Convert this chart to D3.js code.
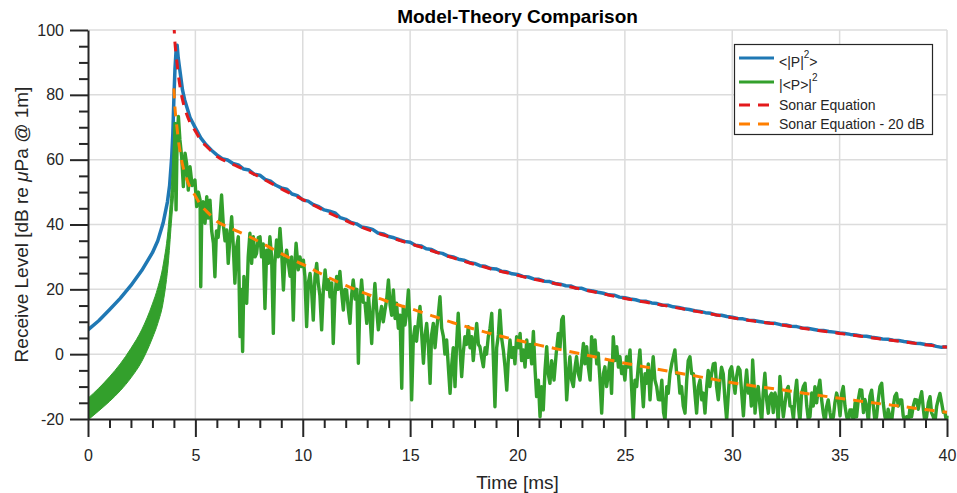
<!DOCTYPE html>
<html>
<head>
<meta charset="utf-8">
<script src="https://cdn.jsdelivr.net/npm/d3@7"></script>
<style>
  body { margin: 0; background: #fff; }
  svg { display: block; font-family: "Liberation Sans", Arial, Helvetica, sans-serif; }
  .axis .domain, .axis line { stroke: #262626; stroke-width: 2; }
  .axis text { fill: #262626; font-size: 16px; font-family: "Liberation Sans", Arial, sans-serif; }
</style>
</head>
<body>
<div id="chart"></div>
<script>
/* Chart constants */
const WIDTH = 957
const HEIGHT = 493
const MARGIN = {"top": 30, "right": 10, "bottom": 74, "left": 88}
const COLORS = {
  "BLUE": "#1f78b4",
  "GREEN": "#33a02c",
  "RED": "#e31a1c",
  "ORANGE": "#ff7f00",
  "GRID": "#dcdcdc",
  "INK": "#262626"
}
const OFFSET_DB = 20

/* Axis ticks */
const xMajor = [0, 5, 10, 15, 20, 25, 30, 35, 40]
const xMinor = d3.range(0, 41).filter((d) => d % 5 !== 0)
const yMajor = [-20, 0, 20, 40, 60, 80, 100]
const yMinor = d3.range(-20, 101, 5).filter((d) => d % 20 !== 0)

/* Sonar equation (red dashed) */
const sonarTime = [4.0, 4.05, 4.1, 4.15, 4.2, 4.3, 4.4, 4.5, 4.75, 5, 5.25, 5.5, 5.75, 6, 6.5,
  7, 7.5, 8, 8.5, 9, 9.5, 10, 10.5, 11, 11.5, 12, 12.5, 13, 13.5, 14, 14.5, 15, 15.5, 16, 16.5,
  17, 17.5, 18, 18.5, 19, 19.5, 20, 21, 22, 23, 24, 25, 26, 27, 28, 29, 30, 31, 32, 33, 34, 35,
  36, 37, 38, 39, 40]
const sonarLevel = [102, 96, 92.5, 89.5, 86.5, 82, 78.5, 76, 71.5, 68.8, 66, 64.2, 62.6, 61, 59.3,
  57.8, 56.3, 54.6, 52.8, 51, 49.3, 47.7, 46, 44.3, 42.7, 41.2, 39.8, 38.5, 37.3, 36.2, 35.1, 34.1, 33, 31.9, 30.8,
  29.7, 28.7, 27.7, 26.8, 25.9, 25.1, 24.3, 22.8, 21.4, 20, 18.6, 17.2, 16, 14.8, 13.6, 12.4, 11.2, 10.2, 9.3, 8.3, 7.3, 6.4,
  5.5, 4.6, 3.8, 2.9, 2.1]

/* <|P|^2> (blue): rise and peak, then tail sampled every 0.25 ms from 4.75 ms */
const meanSqRiseTime = [0, 0.5, 1, 1.5, 2, 2.5, 3, 3.25, 3.5, 3.7, 3.8, 3.9, 3.95, 4.0, 4.05, 4.1, 4.15, 4.2, 4.25, 4.3, 4.4, 4.5]
const meanSqRiseLevel = [7.5, 10.3, 13.7, 17.2, 21.2, 25.8, 31.3, 35, 40.5, 47, 52, 61, 68, 79, 88, 93.5, 95.3, 91.5, 89, 86.5, 81.5, 78.5]
const meanSqTailStart = 4.75
const meanSqTailStep = 0.25
const meanSqTailLevel = [
  73,
  69.8, 66.7, 64.6, 62.9,
  61.5, 60.3, 59.9, 58.8,
  58.4, 57.1, 56.8, 55.5,
  55.2, 53.9, 53.4, 52.1,
  51.3, 50.9, 49.4, 48.9,
  47.6, 47.2, 46.1, 45.5,
  44.5, 44.1, 43.6, 42.1,
  41.6, 40.6, 40.2, 39.2,
  38.9, 38.5, 37.4, 37.1,
  36.3, 35.9, 35.3, 34.8,
  34.5, 33.6, 33.4, 32.5,
  32.3, 31.4, 31.1, 30.3,
  30.0, 29.3, 29.0, 28.3,
  28.0, 27.3, 27.1, 26.4,
  26.3, 25.6, 25.4, 24.8,
  24.6, 24.0, 23.8, 23.2,
  23.1, 22.5, 22.4, 21.8,
  21.6, 21.1, 21.0, 20.3,
  20.3, 19.7, 19.5, 19.1,
  18.8, 18.3, 18.2, 17.6,
  17.4, 17.0, 16.8, 16.3,
  16.3, 15.8, 15.6, 15.1,
  15.1, 14.6, 14.4, 14.0,
  13.8, 13.4, 13.2, 12.8,
  12.6, 12.1, 12.0, 11.6,
  11.4, 11.0, 10.9, 10.5,
  10.4, 10.1, 9.8, 9.6,
  9.5, 9.1, 9.0, 8.6,
  8.5, 8.1, 8.0, 7.7,
  7.4, 7.3, 7.0, 6.8,
  6.5, 6.4, 6.1, 5.9,
  5.6, 5.5, 5.2, 5.0,
  4.7, 4.6, 4.3, 4.2,
  3.9, 3.7, 3.4, 3.3,
  3.0, 2.9, 2.4, 2.1,
  2.3
]

/* |<P>|^2 (green): fast oscillation envelope before the arrival, then sampled noise */
const bandTime = [0, 0.5, 1, 1.5, 2, 2.5, 3, 3.25, 3.5, 3.75, 3.9, 4.0]
const bandUpper = [-13.6, -10.5, -7, -3, 1.8, 7.5, 15.5, 20.5, 27.5, 40, 54, 68]
const bandLower = [-20.3, -17.5, -14.6, -11.3, -7.3, -2.3, 5, 9.5, 16, 29, 42, 50]
const coherentSamples = [
  [4.0, 50], [4.02, 60], [4.05, 71.2], [4.10, 44.5], [4.15, 66], [4.21, 73.3], [4.28, 66.1], [4.36, 61],
  [4.44, 51.7], [4.52, 62], [4.59, 58.9], [4.67, 50.6], [4.75, 57.8], [4.85, 52], [4.98, 53.7], [5.06, 45.5],
  [5.14, 50], [5.22, 47.5], [5.25, 20.8], [5.30, 44], [5.37, 47], [5.45, 40.4], [5.53, 48.6], [5.60, 42],
  [5.68, 47.5], [5.76, 38], [5.84, 34.2], [5.91, 23.9], [5.98, 38], [6.06, 36], [6.15, 42.4], [6.22, 49.1],
  [6.30, 40], [6.38, 35], [6.46, 38.3], [6.53, 28], [6.61, 36], [6.69, 42.4], [6.76, 34], [6.84, 21.9],
  [6.92, 33], [7.00, 36.2], [7.08, 5.4], [7.14, 20], [7.20, 0.8], [7.26, 24], [7.31, 17.7], [7.39, 15.7],
  [7.46, 30], [7.54, 37.3], [7.62, 28], [7.70, 36.2], [7.78, 30], [7.85, 31.1], [7.93, 36], [8.01, 36.2],
  [8.08, 30], [8.16, 34], [8.24, 14.1], [8.32, 32.1], [8.40, 28], [8.47, 36.2], [8.55, 30], [8.63, 6.4],
  [8.70, 28], [8.78, 35.2], [8.86, 30], [8.94, 38.8], [9.02, 31], [9.10, 19.8], [9.17, 29], [9.25, 32.1],
  [9.33, 28], [9.41, 24], [9.48, 30], [9.56, 10.5], [9.62, 26], [9.69, 34.2], [9.79, 26], [9.87, 30],
  [9.95, 27], [10.03, 29], [10.10, 24], [10.18, 8.5], [10.26, 22], [10.34, 24.9], [10.41, 20], [10.49, 10.5],
  [10.57, 24], [10.65, 28], [10.72, 22], [10.80, 18], [10.88, 7.5], [10.96, 20], [11.04, 26], [11.12, 20],
  [11.20, 23], [11.27, 17.7], [11.35, 22], [11.42, 3.3], [11.50, 18], [11.58, 24], [11.65, 20], [11.73, 25.5],
  [11.81, 19], [11.89, 13.6], [11.96, 20], [12.04, 19.8], [12.12, 14], [12.20, 9.5], [12.27, 18], [12.35, 22.9],
  [12.44, 17], [12.52, 20], [12.59, -2.8], [12.66, 16], [12.74, 22.9], [12.82, 16], [12.90, 15.7], [12.98, 9.5],
  [13.06, 18], [13.13, 12], [13.21, 3.3], [13.28, 14], [13.36, 21.8], [13.44, 14], [13.52, 7.5], [13.60, 12],
  [13.67, 14.7], [13.75, 10], [13.83, 13.6], [13.91, 17], [13.99, 22.9], [14.07, 15], [14.14, 12], [14.22, 19.8],
  [14.30, 11], [14.37, 15.7], [14.45, 8], [14.53, 12], [14.61, -10.5], [14.68, 14.7], [14.76, 9], [14.84, 13],
  [14.92, 19.8], [15.00, 8], [15.07, -14.1], [15.15, 5], [15.23, 8.5], [15.30, 4], [15.38, 10], [15.46, 14.7],
  [15.54, 6], [15.62, -2.8], [15.70, 6], [15.77, 9.5], [15.85, 3], [15.93, -9], [16.00, 6], [16.08, 9.5],
  [16.16, 2], [16.24, 8], [16.31, 12], [16.39, 17.7], [16.47, 8], [16.55, 5.4], [16.62, 0], [16.70, 4.4],
  [16.78, -4], [16.86, -12.1], [16.94, -3], [17.01, 2], [17.09, -10], [17.17, 4], [17.24, 12.6], [17.32, 2],
  [17.40, -6.9], [17.47, 0], [17.55, 5.4], [17.63, 3], [17.71, 8.5], [17.79, 2], [17.87, 5.4], [17.94, -2],
  [18.02, 4], [18.10, 9.5], [18.18, 3], [18.25, 2.3], [18.33, -1], [18.41, -3.9], [18.49, 2], [18.56, 0],
  [18.64, 5.4], [18.72, 8], [18.80, 12.6], [18.88, -2], [18.95, -16.2], [19.03, 2], [19.11, 6], [19.18, 13.6],
  [19.26, 5], [19.34, 1.3], [19.42, -4], [19.50, -11.1], [19.57, -2], [19.65, 4.4], [19.73, -1], [19.81, 2],
  [19.88, -3], [19.96, 5.4], [20.04, 2], [20.12, 6.4], [20.19, -2], [20.27, 1.3], [20.35, -4], [20.43, 4.4],
  [20.51, -1], [20.58, 3], [20.66, -3], [20.74, 7.0], [20.82, -5], [20.89, -13.1], [20.97, -8], [21.05, -19.3],
  [21.12, -10], [21.20, -17.2], [21.28, -5], [21.36, 2.3], [21.43, -6], [21.51, -9], [21.59, -2], [21.70, -8],
  [21.80, 0], [21.90, 6.4], [21.98, 2], [22.06, 10.6], [22.13, 11.6], [22.21, 0], [22.29, -14.1], [22.37, -6],
  [22.44, -0.8], [22.52, -8], [22.60, -10], [22.68, -4], [22.75, -0.8], [22.83, -6], [22.91, -8], [22.99, -2],
  [23.07, 3.3], [23.14, -3], [23.22, 2.3], [23.30, -4], [23.38, -8], [23.45, 5.4], [23.53, 0], [23.61, 4.4],
  [23.69, -3], [23.76, 0.3], [23.84, -8], [23.92, -18.2], [24.00, -6], [24.07, -3.9], [24.15, -10], [24.23, -6],
  [24.30, -2], [24.38, -12.1], [24.46, 5.4], [24.54, -2], [24.62, 2.3], [24.70, -4], [24.77, -0.8], [24.85, -6],
  [24.93, -3.9], [25.00, -8], [25.08, -0.8], [25.16, -4], [25.24, 1.3], [25.31, -10], [25.39, -20.3], [25.47, -8],
  [25.55, -10], [25.62, -4], [25.70, 1.3], [25.78, -8], [25.86, -16.2], [25.94, -6], [26.01, -9], [26.09, -3],
  [26.17, -14.1], [26.25, -6], [26.32, -0.8], [26.40, -8], [26.48, -10], [26.56, -14], [26.64, -14.1], [26.72, -8],
  [26.80, -18], [26.87, -20.3], [26.95, -10], [27.02, -12.1], [27.10, -6], [27.18, -3], [27.25, -1], [27.33, 1.3],
  [27.41, -6], [27.49, -6], [27.56, -12], [27.64, -10], [27.72, -16], [27.80, -18.2], [27.88, -8], [27.95, -2],
  [28.03, -0.8], [28.11, -6], [28.19, -6], [28.26, -12], [28.34, -18.2], [28.42, -10], [28.50, -8], [28.58, -14.1],
  [28.65, -12], [28.73, -18.2], [28.81, -10], [28.88, -5], [28.96, -10], [29.04, -6], [29.12, -3], [29.20, -2.8],
  [29.27, -10], [29.35, -14.1], [29.43, -8], [29.50, -4], [29.58, -6], [29.66, -14], [29.74, -20.3], [29.82, -12],
  [29.89, -5], [29.97, -3.9], [30.05, -8], [30.13, -12.1], [30.20, -7], [30.28, -4], [30.36, -4.9], [30.44, -12],
  [30.52, -19], [30.60, -10], [30.67, -4.9], [30.75, -12], [30.83, -10], [30.89, -16], [30.95, -1.8], [31.02, -10],
  [31.06, -18.2], [31.14, -12], [31.21, -10], [31.29, -16], [31.37, -21], [31.44, -12], [31.52, -5.9], [31.60, -14],
  [31.68, -18.2], [31.75, -13], [31.83, -12.1], [31.91, -18], [31.99, -12], [32.07, -14.1], [32.14, -21], [32.22, -6.9],
  [32.30, -14], [32.38, -19.3], [32.46, -15], [32.54, -11], [32.61, -10], [32.69, -16], [32.77, -16.2], [32.85, -20],
  [32.93, -12], [33.00, -8], [33.08, -16], [33.15, -21], [33.23, -12], [33.31, -10], [33.39, -9], [33.47, -16],
  [33.54, -20], [33.62, -19.3], [33.70, -12], [33.77, -16], [33.85, -10], [33.93, -15], [34.00, -11], [34.08, -8],
  [34.16, -14], [34.24, -18.2], [34.32, -21], [34.40, -16], [34.47, -14.1], [34.55, -18], [34.63, -21], [34.71, -19.3],
  [34.78, -15], [34.86, -12], [34.94, -14.1], [35.02, -19], [35.10, -12], [35.17, -10], [35.25, -16], [35.33, -19.3],
  [35.41, -21], [35.48, -17.2], [35.56, -17.2], [35.64, -21], [35.72, -15], [35.79, -19.3], [35.87, -14], [35.95, -11],
  [36.03, -11.1], [36.11, -18], [36.18, -14], [36.26, -16.2], [36.34, -21], [36.41, -13], [36.49, -11.1], [36.57, -16],
  [36.65, -21], [36.72, -19.3], [36.80, -14], [36.88, -10], [36.96, -9], [37.03, -15], [37.11, -19.3], [37.19, -21],
  [37.26, -17], [37.34, -19.3], [37.42, -21], [37.50, -16], [37.57, -13], [37.65, -12.1], [37.73, -16], [37.81, -14.1],
  [37.89, -14.1], [37.96, -19], [38.04, -21], [38.12, -19.3], [38.20, -21], [38.27, -17], [38.35, -19.3], [38.43, -16],
  [38.51, -14], [38.59, -14.1], [38.66, -17], [38.74, -14], [38.82, -11.6], [38.90, -17], [38.97, -21], [39.05, -19.3],
  [39.13, -15], [39.21, -13.1], [39.28, -18], [39.36, -19.3], [39.44, -21], [39.52, -16], [39.59, -14], [39.67, -12.1],
  [39.75, -15], [39.83, -18], [39.91, -18.2], [39.98, -21], [40.00, -19]
]

/* Text */
const TITLE = "Model-Theory Comparison"
const X_LABEL = "Time [ms]"

/* Build the series */
const sonar = sonarTime.map((t, i) => ({"t": t, "v": sonarLevel[i]}))
const sonarLow = sonar.map((d) => ({"t": d.t, "v": d.v - OFFSET_DB}))
const meanSq = meanSqRiseTime.map((t, i) => ({"t": t, "v": meanSqRiseLevel[i]}))
  .concat(meanSqTailLevel.map((v, i) => ({"t": meanSqTailStart + i * meanSqTailStep, "v": v})))
const band = bandTime.map((t, i) => ({"t": t, "hi": bandUpper[i], "lo": bandLower[i]}))
const coherent = coherentSamples.map((d) => ({"t": d[0], "v": d[1]}))

/* Define the svg */
const svg = d3.select("#chart")
              .append("svg")
              .attr("width", WIDTH)
              .attr("height", HEIGHT);

const xScale = d3.scaleLinear().domain([0, 40]).range([MARGIN.left, WIDTH - MARGIN.right]);
const yScale = d3.scaleLinear().domain([-20, 100]).range([HEIGHT - MARGIN.bottom, MARGIN.top]);

/* Grid */
const grid = svg.append("g").attr("stroke", COLORS.GRID).attr("stroke-width", 1.5);
grid.selectAll(".gx")
    .data(xMajor.filter((d) => d > 0))
    .enter()
    .append("line")
    .attr("x1", (d) => xScale(d)).attr("x2", (d) => xScale(d))
    .attr("y1", yScale(-20)).attr("y2", yScale(100));
grid.selectAll(".gy")
    .data(yMajor.filter((d) => d > -20))
    .enter()
    .append("line")
    .attr("x1", xScale(0)).attr("x2", xScale(40))
    .attr("y1", (d) => yScale(d)).attr("y2", (d) => yScale(d));

/* Clip */
svg.append("clipPath").attr("id", "plot-clip")
   .append("rect")
   .attr("x", xScale(0)).attr("y", yScale(100))
   .attr("width", xScale(40) - xScale(0) + 2)
   .attr("height", yScale(-20) - yScale(100));
const plot = svg.append("g").attr("clip-path", "url(#plot-clip)");

const line = d3.line().x((d) => xScale(d.t)).y((d) => yScale(d.v));
const smooth = d3.line().x((d) => xScale(d.t)).y((d) => yScale(d.v)).curve(d3.curveMonotoneX);

plot.append("path")
    .datum(meanSq)
    .attr("d", line)
    .attr("fill", "none")
    .attr("stroke", COLORS.BLUE)
    .attr("stroke-width", 3.5)
    .attr("stroke-linejoin", "round");

plot.append("path")
    .datum(band)
    .attr("d", d3.area().x((d) => xScale(d.t)).y0((d) => yScale(d.lo)).y1((d) => yScale(d.hi)).curve(d3.curveMonotoneX))
    .attr("fill", COLORS.GREEN)
    .attr("stroke", COLORS.GREEN)
    .attr("stroke-width", 1);

plot.append("path")
    .datum(coherent)
    .attr("d", line)
    .attr("fill", "none")
    .attr("stroke", COLORS.GREEN)
    .attr("stroke-width", 3.4)
    .attr("stroke-linejoin", "round");

plot.append("path")
    .datum(sonar)
    .attr("d", smooth)
    .attr("fill", "none")
    .attr("stroke", COLORS.RED)
    .attr("stroke-width", 3)
    .attr("stroke-dasharray", "10,8");

plot.append("path")
    .datum(sonarLow)
    .attr("d", smooth)
    .attr("fill", "none")
    .attr("stroke", COLORS.ORANGE)
    .attr("stroke-width", 3)
    .attr("stroke-dasharray", "10,8");

/* Axes */
const plainNumber = (d) => String(d);
const yAxis = d3.axisLeft(yScale).tickValues(yMajor).tickSize(18).tickSizeOuter(0).tickPadding(6).tickFormat(plainNumber);
const yAxisMinor = d3.axisLeft(yScale).tickValues(yMinor).tickSize(9).tickFormat("");
const xAxis = d3.axisBottom(xScale).tickValues(xMajor).tickSize(18).tickSizeOuter(0).tickPadding(13).tickFormat(plainNumber);
const xAxisMinor = d3.axisBottom(xScale).tickValues(xMinor).tickSize(9).tickFormat("");

svg.append("g").attr("class", "axis")
   .attr("transform", "translate(" + MARGIN.left + ", 0)").call(yAxisMinor)
   .select(".domain").remove();
svg.append("g").attr("class", "axis")
   .attr("transform", "translate(0, " + (HEIGHT - MARGIN.bottom) + ")").call(xAxisMinor)
   .select(".domain").remove();
svg.append("g").attr("class", "axis")
   .attr("transform", "translate(" + MARGIN.left + ", 0)").call(yAxis);
svg.append("g").attr("class", "axis")
   .attr("transform", "translate(0, " + (HEIGHT - MARGIN.bottom) + ")").call(xAxis);

/* Titles */
svg.append("text")
   .attr("x", (xScale(0) + xScale(40)) / 2).attr("y", 23)
   .attr("text-anchor", "middle")
   .attr("font-size", 19).attr("font-weight", "bold").attr("fill", "#000")
   .text(TITLE);
svg.append("text")
   .attr("x", (xScale(0) + xScale(40)) / 2).attr("y", 489)
   .attr("text-anchor", "middle")
   .attr("font-size", 19).attr("fill", COLORS.INK)
   .text(X_LABEL);
const yLabel = svg.append("text")
   .attr("transform", "translate(28, " + (yScale(-20) + yScale(100)) / 2 + ") rotate(-90)")
   .attr("text-anchor", "middle")
   .attr("font-size", 19).attr("fill", COLORS.INK);
yLabel.append("tspan").text("Receive Level [dB re ");
yLabel.append("tspan").attr("font-style", "italic").text("\u03bc");
yLabel.append("tspan").text("Pa @ 1m]");

/* Legend */
const legend = svg.append("g");
legend.append("rect")
      .attr("x", 734.5).attr("y", 44.5).attr("width", 198).attr("height", 90)
      .attr("fill", "#fff").attr("stroke", COLORS.INK).attr("stroke-width", 1.2);
const legendItems = [
  {"color": COLORS.BLUE, "dash": null, "ly": 58, "ty": 67, "parts": ["<|P|", "2", ">"]},
  {"color": COLORS.GREEN, "dash": null, "ly": 82, "ty": 90, "parts": ["|<P>|", "2", ""]},
  {"color": COLORS.RED, "dash": "11,8", "ly": 105, "ty": 110, "parts": ["Sonar Equation"]},
  {"color": COLORS.ORANGE, "dash": "11,8", "ly": 124, "ty": 129, "parts": ["Sonar Equation - 20 dB"]}
];
legendItems.forEach((d) => {
  legend.append("line")
        .attr("x1", 739).attr("x2", 774).attr("y1", d.ly).attr("y2", d.ly)
        .attr("stroke", d.color).attr("stroke-width", 3)
        .attr("stroke-dasharray", d.dash);
  const t = legend.append("text").attr("x", 779).attr("y", d.ty)
                  .attr("font-size", 14).attr("fill", COLORS.INK);
  t.append("tspan").text(d.parts[0]);
  if (d.parts.length > 1) {
    t.append("tspan").attr("font-size", 10).attr("dy", -9).text(d.parts[1]);
    t.append("tspan").attr("dy", 9).text(d.parts[2]);
  }
});
</script>
</body>
</html>
